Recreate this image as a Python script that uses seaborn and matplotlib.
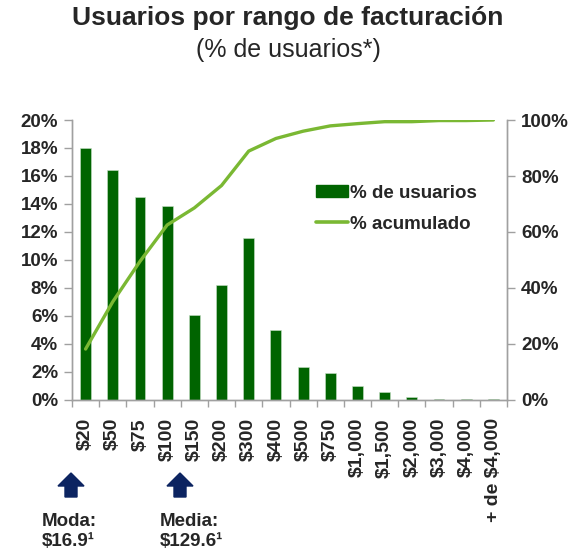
import matplotlib
matplotlib.use("Agg")
import matplotlib.pyplot as plt
import seaborn as sns
import pandas as pd
import numpy as np
from matplotlib.patches import Polygon, Patch
from matplotlib.lines import Line2D
from matplotlib.ticker import FixedLocator, FuncFormatter

categories = ["$20", "$50", "$75", "$100", "$150", "$200", "$300", "$400", "$500",
              "$750", "$1,000", "$1,500", "$2,000", "$3,000", "$4,000", "+ de $4,000"]
pct_usuarios = [18.0, 16.4, 14.5, 13.85, 6.1, 8.2, 11.6, 5.0, 2.35, 1.9, 1.0, 0.55, 0.2, 0.1, 0.1, 0.1]
pct_acumulado = [18.2, 35.1, 49.5, 62.5, 68.6, 76.6, 88.9, 93.4, 96.0, 97.9, 98.7, 99.4, 99.4, 99.8, 99.8, 100.0]
left_ticks = [0, 2, 4, 6, 8, 10, 12, 14, 16, 18, 20]
right_ticks = [0, 20, 40, 60, 80, 100]

sns.set_theme(style="white")
plt.rcParams['font.family'] = ['Liberation Sans', 'DejaVu Sans']
plt.rcParams['text.parse_math'] = False

DARK = "#006400"
LIGHT = "#7ab833"
NAVY = "#0c2461"
GREY = "#a0a0a0"

df = pd.DataFrame({"cat": categories, "usu": pct_usuarios, "acu": pct_acumulado})
df["pos"] = np.arange(len(df))

fig = plt.figure(figsize=(5.76, 5.5), dpi=100)
ax = fig.add_axes([72/576, 1-400/550, 435/576, 280/550])
sns.barplot(data=df, x="cat", y="usu", color=DARK, width=0.4, ax=ax,
            edgecolor="#c8e0c8", linewidth=0.4, saturation=1)
ax.set_ylim(0, 20)
ax.set_xlim(-0.5, len(df) - 0.5)
ax.set_xlabel("")
ax.set_ylabel("")

ax2 = ax.twinx()
sns.lineplot(data=df, x="pos", y="acu", color=LIGHT, linewidth=2.4, ax=ax2)
ax2.set_ylim(0, 100)
ax2.set_xlim(-0.5, len(df) - 0.5)
ax2.set_ylabel("")

for a in (ax, ax2):
    a.spines["top"].set_visible(False)
    for s in ("left", "right", "bottom"):
        a.spines[s].set_color(GREY)
        a.spines[s].set_linewidth(1.0)

ax.set_yticks(left_ticks)
ax.yaxis.set_major_formatter(FuncFormatter(lambda v, p: f"{int(v)}%"))
ax2.set_yticks(right_ticks)
ax2.yaxis.set_major_formatter(FuncFormatter(lambda v, p: f"{int(v)}%"))
ax.tick_params(axis="y", which="major", left=True, length=6, width=1, color=GREY,
               labelsize=13.5, pad=4)
ax2.tick_params(axis="y", which="major", right=True, length=6, width=1, color=GREY,
                labelsize=13.5, pad=4)
for lab in ax.get_yticklabels() + ax2.get_yticklabels():
    lab.set_fontweight("bold")

ax.set_xticks(df["pos"])
ax.set_xticklabels(categories, rotation=90, fontsize=14, fontweight="bold")
ax.tick_params(axis="x", which="major", bottom=False, length=0, pad=13)
ax.xaxis.set_minor_locator(FixedLocator(np.arange(-0.5, len(df), 1.0)))
ax.tick_params(axis="x", which="minor", bottom=True, length=5, width=1, color=GREY)
for lab in ax.get_xticklabels():
    lab.set_verticalalignment("top")

handles = [Patch(facecolor=DARK, edgecolor=DARK), Line2D([0], [0], color=LIGHT, lw=2.6)]
leg = ax2.legend(handles, ["% de usuarios", "% acumulado"], loc="upper left",
                 bbox_to_anchor=(308/576, 1-177/550), bbox_transform=fig.transFigure,
                 frameon=False, handlelength=1.75, handleheight=0.55, handletextpad=0.1,
                 labelspacing=0.75, prop={"size": 13.5, "weight": "bold"}, borderaxespad=0)

fig.text(0.5, 1-18/550, "Usuarios por rango de facturación", ha="center", va="center",
         fontsize=19, fontweight="bold")
fig.text(0.5, 1-50/550, "(% de usuarios*)", ha="center", va="center", fontsize=18)

def up_arrow(cx, tip, bottom):
    H = 550
    hw, sw, hh = 13, 6, 13
    pts = [(cx, H - tip), (cx + hw, H - tip - hh), (cx + sw, H - tip - hh),
           (cx + sw, H - bottom), (cx - sw, H - bottom), (cx - sw, H - tip - hh),
           (cx - hw, H - tip - hh)]
    poly = Polygon(pts, closed=True, facecolor=NAVY, edgecolor=NAVY,
                   transform=matplotlib.transforms.IdentityTransform())
    fig.patches.append(poly)

up_arrow(71, 473, 497)
up_arrow(180, 473, 497)

fig.text(42/576, 1-521/550, "Moda:", ha="left", va="center", fontsize=13.5, fontweight="bold")
fig.text(42/576, 1-541/550, "$16.9¹", ha="left", va="center", fontsize=13.5, fontweight="bold")
fig.text(160/576, 1-521/550, "Media:", ha="left", va="center", fontsize=13.5, fontweight="bold")
fig.text(160/576, 1-541/550, "$129.6¹", ha="left", va="center", fontsize=13.5, fontweight="bold")

fig.savefig("out.png", dpi=100)
